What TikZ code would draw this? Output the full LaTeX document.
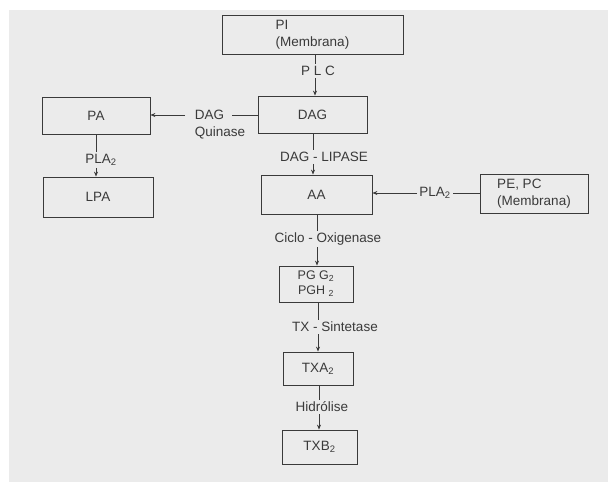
\documentclass[tikz,border=0pt]{standalone}
\usepackage{fontspec}
\setmainfont{Liberation Sans}
\usetikzlibrary{arrows.meta,calc}
\definecolor{bg}{HTML}{EBEBEB}
\definecolor{ink}{HTML}{3A3A3A}
\begin{document}
\begin{tikzpicture}[x=1pt,y=-1pt,
  box/.style={draw=ink, line width=0.8pt, inner sep=0pt, text=ink, font=\fontsize{13.5}{17}\selectfont, align=center},
  lbl/.style={text=ink, font=\fontsize{13.5}{17}\selectfont, inner sep=2pt},
  conn/.style={draw=ink, line width=0.8pt},
  arr/.style={conn, -{Stealth[length=5pt,width=4pt]}}]
\useasboundingbox (0,0) rectangle (608,482);
\fill[white] (0,0) rectangle (608,482);
\fill[bg] (9,10) rectangle (608,482);

% boxes
\node[box, minimum width=181pt, minimum height=39pt, align=left] (PI) at (312.5,34.5) {PI\\(Membrana)};
\node[box, minimum width=109pt, minimum height=37pt] (DAG) at (312.5,114.5) {DAG};
\node[box, minimum width=108pt, minimum height=37pt] (PA) at (96,115.5) {PA};
\node[box, minimum width=110pt, minimum height=40pt] (LPA) at (98,197) {LPA};
\node[box, minimum width=111pt, minimum height=39pt] (AA) at (316.5,194.5) {AA};
\node[box, minimum width=108pt, minimum height=39pt, align=left] (PE) at (534,193.5) {PE, PC\\(Membrana)};
\node[box, minimum width=74pt, minimum height=36pt, font=\fontsize{12.5}{15}\selectfont] (PG) at (316,284) {PG G\textsubscript{2}\\PGH \textsubscript{2}};
\node[box, minimum width=70pt, minimum height=33pt] (TXA) at (318,368.5) {TXA\textsubscript{2}};
\node[box, minimum width=75pt, minimum height=34pt] (TXB) at (319.5,447) {TXB\textsubscript{2}};

% labels
\node[lbl] (plc) at (318,71) {P L C};
\node[lbl, align=left] (dq) at (220,125) {DAG\\Quinase};
\node[lbl] (pla1) at (101,160) {PLA\textsubscript{2}};
\node[lbl] (lip) at (324,157) {DAG - LIPASE};
\node[lbl] (pla2) at (435,193) {PLA\textsubscript{2}};
\node[lbl] (cox) at (328,239) {Ciclo - Oxigenase};
\node[lbl] (txs) at (335,327) {TX - Sintetase};
\node[lbl] (hid) at (322,407) {Hidrólise};

% column coordinates
\coordinate (c1) at (315,0);
\coordinate (c2) at (313,0);
\coordinate (c3) at (317,0);
\coordinate (c4) at (318,0);
\coordinate (c5) at (319,0);
\coordinate (cpa) at (96,0);
\coordinate (dqr) at (232,115);
\coordinate (dql) at (185,115);

% connectors
\draw[conn] (c1 |- PI.south) -- (c1 |- plc.north);
\draw[arr] (c1 |- plc.south) -- (c1 |- DAG.north);

\draw[conn] (DAG.west |- dqr) -- (dqr);
\draw[arr] (dql) -- (PA.east |- dql);

\draw[conn] (cpa |- PA.south) -- (cpa |- pla1.north);
\draw[arr] (cpa |- pla1.south) -- (cpa |- LPA.north);

\draw[conn] (c2 |- DAG.south) -- (c2 |- lip.north);
\draw[arr] (c2 |- lip.south) -- (c2 |- AA.north);

\draw[conn] (PE.west) -- (PE.west -| pla2.east);
\draw[arr] (pla2.west) -- (AA.east |- pla2.west);

\draw[conn] (c3 |- AA.south) -- (c3 |- cox.north);
\draw[arr] (c3 |- cox.south) -- (c3 |- PG.north);

\draw[conn] (c4 |- PG.south) -- (c4 |- txs.north);
\draw[arr] (c4 |- txs.south) -- (c4 |- TXA.north);

\draw[conn] (c5 |- TXA.south) -- (c5 |- hid.north);
\draw[arr] (c5 |- hid.south) -- (c5 |- TXB.north);
\end{tikzpicture}
\end{document}
